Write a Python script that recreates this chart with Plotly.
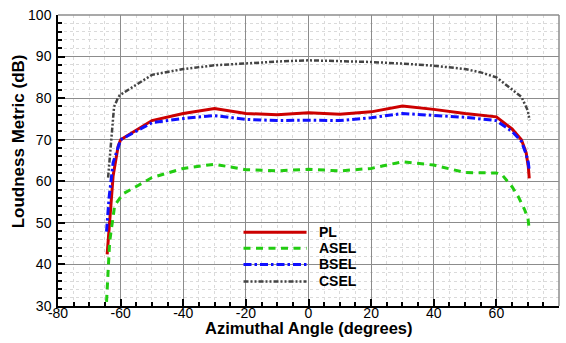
import plotly.graph_objects as go

# ---- data ----
PL_x = [-64.3, -63.5, -62.4, -60.8, -60, -50, -40, -30, -20, -10, 0, 10, 20, 30, 40, 50, 60, 65, 68, 69.5, 70.2, 70.5]
PL_y = [42.4, 51.1, 61.3, 68.4, 70.0, 74.6, 76.3, 77.5, 76.3, 76.0, 76.5, 76.1, 76.7, 78.1, 77.3, 76.3, 75.5, 72.6, 70.0, 66.9, 63.5, 60.7]

ASEL_x = [-64.5, -63.5, -61.9, -59.2, -54.4, -50, -40, -30, -20, -10, 0, 10, 20, 30, 40, 50, 60, 62, 65, 67, 69, 70.1, 70.5]
ASEL_y = [31.0, 45.5, 54.2, 57.0, 59.0, 60.9, 63.1, 64.1, 62.8, 62.5, 62.9, 62.5, 63.1, 64.7, 63.9, 62.1, 62.0, 61.4, 58.7, 56.3, 53.2, 51.0, 48.4]

BSEL_x = [-64.5, -63.7, -62.4, -60.8, -60, -50, -40, -30, -20, -10, 0, 10, 20, 30, 40, 50, 60, 65, 68, 69.5, 70.2, 70.5]
BSEL_y = [47.9, 56.0, 64.5, 68.3, 70.0, 74.1, 75.1, 75.8, 74.9, 74.6, 74.7, 74.6, 75.3, 76.3, 75.9, 75.4, 74.6, 72.0, 69.6, 66.5, 64.5, 62.6]

CSEL_x = [-64.0, -63.4, -62.9, -62.1, -61.0, -60.3, -50, -40, -30, -20, -10, 0, 10, 20, 30, 40, 50, 55, 60, 65, 68, 70, 70.6]
CSEL_y = [60.9, 66.0, 71.5, 77.9, 79.8, 80.7, 85.6, 87.0, 87.9, 88.4, 88.8, 89.1, 88.9, 88.7, 88.3, 87.8, 87.0, 86.2, 85.0, 82.2, 80.3, 77.1, 74.7]

series_names = ["PL", "ASEL", "BSEL", "CSEL"]
x_ticks = [-80, -60, -40, -20, 0, 20, 40, 60, 80]
x_ticktext = ["-80", "-60", "-40", "-20", "0", "20", "40", "60", "80"]
y_ticks = [30, 40, 50, 60, 70, 80, 90, 100]

# ---- styles ----
styles = {
    "PL": dict(color="#cc0000", width=3, dash="solid"),
    "ASEL": dict(color="#22cc11", width=3, dash="7px,5.5px"),
    "BSEL": dict(color="#1010ff", width=3, dash="8px,3px,2.5px,3px"),
    "CSEL": dict(color="#444444", width=2.5, dash="5px,2px,2px,2px,2px,2px"),
}
data = {"PL": (PL_x, PL_y), "ASEL": (ASEL_x, ASEL_y), "BSEL": (BSEL_x, BSEL_y), "CSEL": (CSEL_x, CSEL_y)}

FONT = "Liberation Sans, Arial, Helvetica, sans-serif"

fig = go.Figure()
for name in series_names:
    xs, ys = data[name]
    fig.add_trace(go.Scatter(x=xs, y=ys, mode="lines", name=name,
                             line=styles[name], showlegend=False))

L, R, T, B = 58, 7, 10, 37
W, H = 566, 343

axis_common = dict(
    showline=True, linecolor="black", linewidth=1.5,
    ticks="inside", ticklen=7, tickcolor="black", tickwidth=1.5,
    showgrid=True, gridcolor="#8c8c8c", gridwidth=1,
    zeroline=False,
    tickfont=dict(family=FONT, size=14, color="black"),
)

minor_grid = dict(ticks="inside", ticklen=4, tickcolor="black",
                  showgrid=True, gridcolor="#dadada", griddash="dot", gridwidth=1)

fig.update_xaxes(range=[-80, 80], tickvals=x_ticks, ticktext=x_ticktext,
                 minor=dict(dtick=5, **minor_grid),
                 ticklabelstandoff=-7, **axis_common)
fig.update_yaxes(range=[30, 100], tickvals=y_ticks,
                 minor=dict(dtick=2, **minor_grid),
                 ticklabelstandoff=2, **axis_common)

pw = W - L - R
ph = H - T - B

def px_x(p):
    return (p - L) / pw

def px_y(p):
    return (H - B - p) / ph

shapes = [
    dict(type="line", xref="paper", yref="paper", x0=0, x1=1, y0=1, y1=1,
         line=dict(color="#8c8c8c", width=1.5)),
    dict(type="line", xref="paper", yref="paper", x0=1, x1=1, y0=0, y1=1,
         line=dict(color="#8c8c8c", width=1.5)),
]
annotations = [
    dict(text="<b>Azimuthal Angle (degrees)</b>", xref="paper", yref="paper",
         x=px_x(309), y=px_y(328), xanchor="center", yanchor="middle", showarrow=False,
         font=dict(family=FONT, size=16.5, color="black")),
    dict(text="<b>Loudness Metric (dB)</b>", xref="paper", yref="paper",
         x=px_x(18), y=px_y(138.5), xanchor="center", yanchor="middle", showarrow=False,
         textangle=-90, font=dict(family=FONT, size=17, color="black")),
]

legend_rows = [231, 247.3, 263.7, 281]
for name, ry in zip(series_names, legend_rows):
    st = styles[name]
    shapes.append(dict(type="line", xref="paper", yref="paper",
                       x0=px_x(243.5), x1=px_x(306.5), y0=px_y(ry), y1=px_y(ry),
                       line=dict(color=st["color"], width=st["width"], dash=st["dash"])))
    annotations.append(dict(text="<b>%s</b>" % name, xref="paper", yref="paper",
                            x=px_x(317), y=px_y(ry), xanchor="left", yanchor="middle",
                            showarrow=False, font=dict(family=FONT, size=14, color="black")))

fig.update_layout(
    width=W, height=H,
    margin=dict(l=L, r=R, t=T, b=B),
    paper_bgcolor="white", plot_bgcolor="white",
    shapes=shapes, annotations=annotations,
    showlegend=False,
)

fig.write_html("out.html")
